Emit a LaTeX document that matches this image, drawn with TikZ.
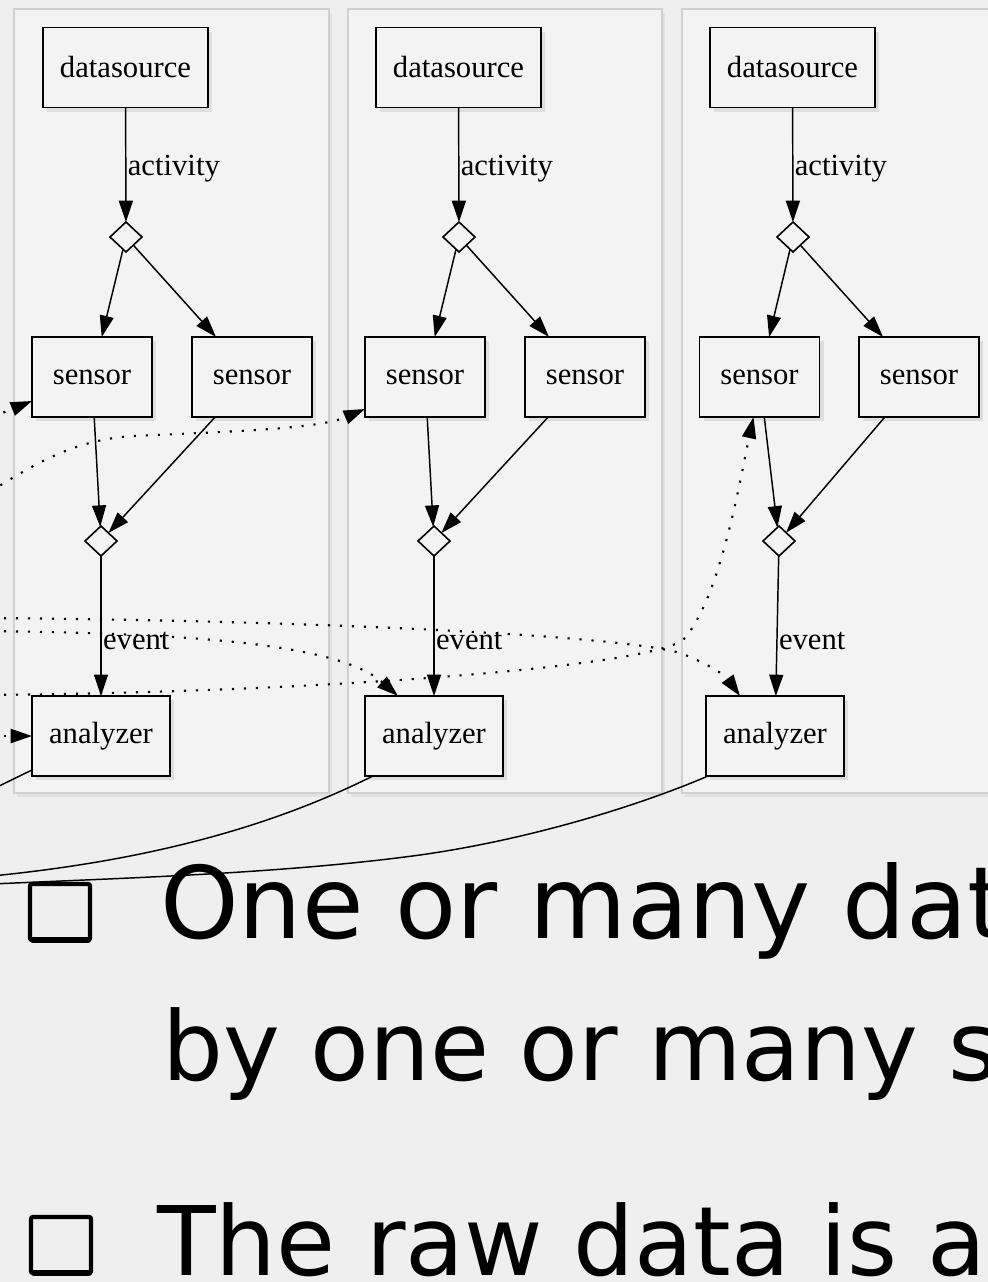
\documentclass[tikz,border=0pt]{standalone}
\usepackage{fontspec}
\setmainfont{Liberation Serif}
\newfontfamily\handfont{DejaVu Sans}
\usetikzlibrary{shapes.geometric,arrows.meta,calc,shadows}
\definecolor{paper}{HTML}{EFEFEF}
\definecolor{panelfill}{HTML}{F3F3F3}
\definecolor{panelline}{HTML}{D0D0D0}
\tikzset{
 panel/.style={draw=panelline, fill=panelfill, line width=1.2pt,
   drop shadow={shadow xshift=2pt, shadow yshift=-3pt, opacity=0.12}},
 box/.style={draw, line width=1.4pt, fill=panelfill, inner sep=0pt, outer sep=0pt,
   font=\fontsize{23}{27}\selectfont,
   drop shadow={shadow xshift=3pt, shadow yshift=-3pt, opacity=0.18}},
 src/.style={box, minimum width=123.75pt, minimum height=60pt},
 sens/.style={box, minimum width=90pt, minimum height=60pt},
 ana/.style={box, minimum width=103.5pt, minimum height=60pt},
 junction/.style={diamond, draw, line width=1.2pt, fill=panelfill,
   minimum width=24pt, minimum height=22.5pt, inner sep=0pt, outer sep=0pt},
 flow/.style={line width=1.1pt, -{Triangle[length=16pt,width=10.5pt]}},
 trigger/.style={flow, line width=1.6pt, dash pattern=on 1.6pt off 7.4pt},
 feed/.style={line width=1.1pt},
 lbl/.style={font=\fontsize{23}{27}\selectfont, inner sep=1pt, anchor=west},
 checkbox/.style={draw, line width=3.2pt, minimum width=45pt, minimum height=42pt,
   inner sep=0pt, outer sep=0pt, rounded corners=1.5pt},
 bullet/.style={anchor=base west, inner sep=0pt},
}
\begin{document}
\begin{tikzpicture}[x=0.75pt,y=-0.75pt]
\useasboundingbox (0,0) rectangle (988,1282);
\begin{scope}
\clip (0,0) rectangle (988,1282);
\fill[paper] (0,0) rectangle (988,1282);

% panels
\path[panel] (14,9) rectangle (329,793);
\path[panel] (348,9) rectangle (662,793);
\path[panel] (682,9) rectangle (1010,793);

% panel 1
\node[src]  (ds1) at (125.5,67.5) {datasource};
\node[junction] (j1) at (126,237) {};
\node[sens] (s1a) at (92,377) {sensor};
\node[sens] (s1b) at (252,377) {sensor};
\node[junction] (k1) at (101,541) {};
\node[ana]  (a1) at (101,736) {analyzer};

% panel 2
\node[src]  (ds2) at (458.5,67.5) {datasource};
\node[junction] (j2) at (459,237) {};
\node[sens] (s2a) at (425,377) {sensor};
\node[sens] (s2b) at (585,377) {sensor};
\node[junction] (k2) at (434,541) {};
\node[ana]  (a2) at (434,736) {analyzer};

% panel 3
\node[src]  (ds3) at (792.5,67.5) {datasource};
\node[junction] (j3) at (793,237) {};
\node[sens] (s3a) at (759.5,377) {sensor};
\node[sens] (s3b) at (919,377) {sensor};
\node[junction] (k3) at (779,541) {};
\node[ana]  (a3) at (775,736) {analyzer};

% solid flows
\draw[flow] (ds1) -- node[lbl,pos=0.53] {activity} (j1);
\draw[flow] (j1) -- (s1a);
\draw[flow] (j1) -- (s1b);
\draw[flow] (s1a) -- (k1);
\draw[flow] (s1b) -- (k1);
\draw[flow] (k1) -- node[lbl,pos=0.61] {event} (a1);

\draw[flow] (ds2) -- node[lbl,pos=0.53] {activity} (j2);
\draw[flow] (j2) -- (s2a);
\draw[flow] (j2) -- (s2b);
\draw[flow] (s2a) -- (k2);
\draw[flow] (s2b) -- (k2);
\draw[flow] (k2) -- node[lbl,pos=0.61] {event} (a2);

\draw[flow] (ds3) -- node[lbl,pos=0.53] {activity} (j3);
\draw[flow] (j3) -- (s3a);
\draw[flow] (j3) -- (s3b);
\draw[flow] (s3a) -- (k3);
\draw[flow] (s3b) -- (k3);
\draw[flow] (k3) -- node[lbl,pos=0.61] {event} (a3);

% dotted triggers from the left
\coordinate (L1) at (-30,426);
\coordinate (L2) at (-20,498);
\coordinate (L3) at (-20,618);
\coordinate (L4) at (-20,631);
\coordinate (L5) at (-20,695);
\coordinate (L6) at (-20,736);
\draw[trigger] (L1) -- ($(s1a.west)+(0,24)$);
\draw[trigger] (L2) .. controls (30,467) and (70,440) .. (133,436)
   .. controls (250,431) and (320,428) .. ($(s2a.west)+(0,32)$);
\draw[trigger] (L3) .. controls (300,620) and (620,635) .. (680,653)
   .. controls (705,662) and (725,675) .. ($(a3.north)+(-35,0)$);
\draw[trigger] (L4) .. controls (200,633) and (340,645) .. ($(a2.north)+(-36,0)$);
\draw[trigger] (L5) .. controls (300,693) and (645,668) .. (683,640)
   .. controls (720,600) and (740,480) .. ($(s3a.south)+(-6,0)$);
\draw[trigger] (L6) -- (a1.west);

% solid feeds leaving to the left
\coordinate (R1) at (-40,805);
\coordinate (R2) at (-30,878);
\coordinate (R3) at (-30,885);
\draw[feed] ($(a1.west)+(0,34)$) -- (R1);
\draw[feed] ($(a2.south)+(-61,0)$) .. controls (300,812) and (180,860) .. (R2);
\draw[feed] ($(a3.south)+(-67,0)$) .. controls (650,801) and (540,838) .. (420,855)
   .. controls (280,874) and (120,878) .. (R3);

% handwritten bullets
\node[checkbox] (cb1) at (60,912) {};
\draw[line width=4.5pt, line cap=round] ($(cb1.south west)+(3,0)$) -- ($(cb1.south east)+(-2,0)$);
\node[bullet, font=\handfont\fontsize{75}{85}\selectfont] (t1) at (160,938) {One or many dat};
\node[bullet, font=\handfont\fontsize{72}{82}\selectfont] (t2) at (162,1080) {by one or many s};
\node[checkbox] (cb2) at (61,1245) {};
\draw[line width=4.5pt, line cap=round] ($(cb2.south west)+(3,0)$) -- ($(cb2.south east)+(-2,0)$);
\node[bullet, font=\handfont\fontsize{72}{82}\selectfont] (t3) at (157,1275) {The raw data is a};
\end{scope}
\end{tikzpicture}
\end{document}
